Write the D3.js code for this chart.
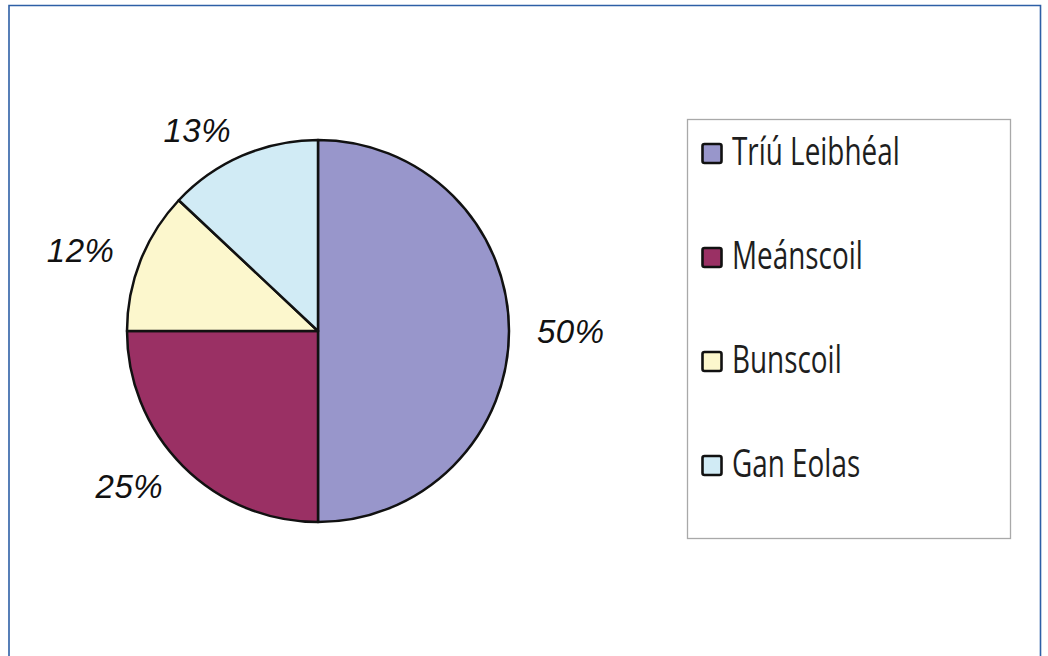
<!DOCTYPE html>
<html>
<head>
<meta charset="utf-8">
<script src="https://cdn.jsdelivr.net/npm/d3@7"></script>
<style>
  html, body { margin: 0; padding: 0; background: #fff; }
  svg { display: block; }
</style>
</head>
<body>
<svg id="chart"></svg>
<script>
// data
const categories = ['Tríú Leibhéal', 'Meánscoil', 'Bunscoil', 'Gan Eolas'];
const values = [50, 25, 12, 13];
const sliceColors = ['#9896cb', '#9a3064', '#fcf7cd', '#d1ebf5'];

const width = 1048;
const height = 656;

const svg = d3.select('#chart')
    .attr('width', width)
    .attr('height', height);

// outer frame, open at the bottom
svg.append('path')
    .attr('d', `M9,${height + 2} L9,5.5 L1040.5,5.5 L1040.5,${height + 2}`)
    .attr('fill', 'none')
    .attr('stroke', '#2d5fa6')
    .attr('stroke-width', 1.6);

const data = categories.map((c, i) => ({name: c, value: values[i], color: sliceColors[i]}));

const cx = 318, cy = 331, radius = 191;

const pie = d3.pie()
    .value(d => d.value)
    .sort(null);

const arcs = pie(data);

const arc = d3.arc()
    .innerRadius(0)
    .outerRadius(radius);

const labelArc = d3.arc()
    .innerRadius(219)
    .outerRadius(219);

const pieGroup = svg.append('g')
    .attr('transform', `translate(${cx}, ${cy})`);

pieGroup.selectAll('.slice')
    .data(arcs)
    .enter()
    .append('path')
    .attr('class', 'slice')
    .attr('d', arc)
    .attr('fill', d => d.data.color)
    .attr('stroke', '#111')
    .attr('stroke-width', 2.5)
    .attr('stroke-linejoin', 'round');

pieGroup.selectAll('.pct')
    .data(arcs)
    .enter()
    .append('text')
    .attr('class', 'pct')
    .attr('x', d => labelArc.centroid(d)[0])
    .attr('y', d => labelArc.centroid(d)[1])
    .attr('dy', '0.36em')
    .attr('text-anchor', d => ((d.startAngle + d.endAngle) / 2 < Math.PI ? 'start' : 'end'))
    .style('font-family', '"Liberation Sans", Arial, sans-serif')
    .style('font-style', 'italic')
    .style('font-size', '33px')
    .style('letter-spacing', '0.5px')
    .attr('fill', '#111')
    .text(d => `${d.data.value}%`);

// legend
const legendBox = {x: 687.5, y: 119.5, w: 323, h: 419};
svg.append('rect')
    .attr('x', legendBox.x)
    .attr('y', legendBox.y)
    .attr('width', legendBox.w)
    .attr('height', legendBox.h)
    .attr('fill', '#fff')
    .attr('stroke', '#a9a9a9')
    .attr('stroke-width', 1.3);

const rowY = d3.scalePoint()
    .domain(categories)
    .range([165, 477]);

const legend = svg.append('g');

const rows = legend.selectAll('.row')
    .data(data)
    .enter()
    .append('g')
    .attr('class', 'row')
    .attr('transform', d => `translate(0, ${rowY(d.name)})`);

rows.append('rect')
    .attr('x', 702.5)
    .attr('y', -21)
    .attr('width', 19)
    .attr('height', 19)
    .attr('rx', 2)
    .attr('fill', d => d.color)
    .attr('stroke', '#111')
    .attr('stroke-width', 2.6);

rows.append('text')
    .attr('transform', 'translate(732, 0) scale(0.715, 1)')
    .style('font-family', '"Open Sans", sans-serif')
    .style('font-size', '39px')
    .attr('fill', '#1e1e1e')
    .text(d => d.name);
</script>
</body>
</html>
